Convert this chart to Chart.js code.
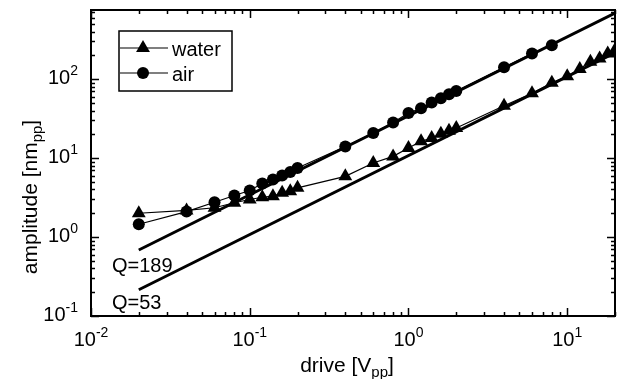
<!DOCTYPE html>
<html>
<head>
<meta charset="utf-8">
<script src="https://cdn.jsdelivr.net/npm/chart.js@4.4.1/dist/chart.umd.min.js"></script>
<style>
  html, body { margin: 0; padding: 0; background: #fff; }
  #wrap { width: 624px; height: 379px; position: relative; }
</style>
</head>
<body>
<div id="wrap"><canvas id="myChart"></canvas></div>
<script>
// datos
const drive = [0.02, 0.04, 0.06, 0.08, 0.1, 0.12, 0.14, 0.16, 0.18, 0.2, 0.4, 0.6, 0.8, 1, 1.2, 1.4, 1.6, 1.8, 2, 4, 6, 8, 10, 12, 14, 16, 18, 20];
const water = [2.0, 2.17, 2.35, 2.72, 2.99, 3.19, 3.29, 3.63, 3.8, 4.2, 5.87, 8.67, 10.5, 13.4, 16.3, 17.9, 20.3, 22.1, 24.0, 46, 66, 90, 109, 134, 166, 183, 211, 233];
const air = [1.45, 2.1, 2.76, 3.36, 3.88, 4.75, 5.35, 6.0, 6.68, 7.5, 14.0, 20.7, 28.2, 37.1, 42.8, 50.4, 57.3, 64.3, 70.8, 141, 211, 269];
// rectas de ajuste (Q=189 y Q=53), extremos
const fitDrive = [0.02, 20];
const fitQ189 = [0.685, 685];
const fitQ53 = [0.215, 215];
const fitLabels = ['Q=189', 'Q=53'];
// ticks
const xExps = [-2, -1, 0, 1];
const yExps = [-1, 0, 1, 2];
const xTitle = ['drive [V', 'pp', ']'];
const yTitle = ['amplitude [nm', 'pp', ']'];

const FONT = '"Liberation Sans", Arial, Helvetica, sans-serif';
const R_TRI = 8;
const R_CIR = 6;

function puntos(xs, ys) {
    var out = [];
    for (var i = 0; i < ys.length; ++i) {
        out.push({ x: xs[i], y: ys[i] });
    }
    return out;
}

function dibujarMarca(ctx, tipo, x, y) {
    ctx.beginPath();
    if (tipo === 'triangle') {
        var r = R_TRI;
        ctx.moveTo(x, y - r);
        ctx.lineTo(x + r * 0.866, y + r * 0.5);
        ctx.lineTo(x - r * 0.866, y + r * 0.5);
        ctx.closePath();
    } else {
        ctx.arc(x, y, R_CIR, 0, Math.PI * 2);
    }
    ctx.fill();
}

// texto con exponente
function textoPot(ctx, base, exp, x, y, align, size, supSize, rise) {
    ctx.font = size + 'px ' + FONT;
    var wb = ctx.measureText(base).width;
    ctx.font = supSize + 'px ' + FONT;
    var we = ctx.measureText(exp).width;
    var total = wb + we;
    var x0 = x;
    if (align === 'center') x0 = x - total / 2;
    if (align === 'right') x0 = x - total;
    ctx.textAlign = 'left';
    ctx.textBaseline = 'alphabetic';
    ctx.font = size + 'px ' + FONT;
    ctx.fillText(base, x0, y);
    ctx.font = supSize + 'px ' + FONT;
    ctx.fillText(exp, x0 + wb, y - rise);
}

// texto con subindice, centrado en x
function textoSub(ctx, partes, x, y, size, subSize, drop) {
    ctx.font = size + 'px ' + FONT;
    var w1 = ctx.measureText(partes[0]).width;
    var w3 = ctx.measureText(partes[2]).width;
    ctx.font = subSize + 'px ' + FONT;
    var w2 = ctx.measureText(partes[1]).width;
    var x0 = x - (w1 + w2 + w3) / 2;
    ctx.textAlign = 'left';
    ctx.textBaseline = 'alphabetic';
    ctx.font = size + 'px ' + FONT;
    ctx.fillText(partes[0], x0, y);
    ctx.font = subSize + 'px ' + FONT;
    ctx.fillText(partes[1], x0 + w1, y + drop);
    ctx.font = size + 'px ' + FONT;
    ctx.fillText(partes[2], x0 + w1 + w2, y);
}

const marco = {
    id: 'marco',
    afterDraw(chart) {
        const ctx = chart.ctx;
        const a = chart.chartArea;
        const sx = chart.scales.x;
        const sy = chart.scales.y;
        ctx.save();
        ctx.fillStyle = '#000';
        ctx.strokeStyle = '#000';

        // ticks hacia dentro, en los cuatro lados
        ctx.lineWidth = 1.5;
        ctx.beginPath();
        xExps.forEach(function (e) {
            for (var m = 1; m <= 9; ++m) {
                var v = m * Math.pow(10, e);
                if (v > sx.max + 1e-9) break;
                var px = Math.round(sx.getPixelForValue(v)) + 0.5;
                var len = (m === 1) ? 8 : 4;
                ctx.moveTo(px, a.bottom); ctx.lineTo(px, a.bottom - len);
                ctx.moveTo(px, a.top); ctx.lineTo(px, a.top + len);
            }
        });
        yExps.forEach(function (e) {
            for (var m = 1; m <= 9; ++m) {
                var v = m * Math.pow(10, e);
                if (v > sy.max + 1e-9) break;
                var py = Math.round(sy.getPixelForValue(v)) + 0.5;
                var len = (m === 1) ? 8 : 4;
                ctx.moveTo(a.left, py); ctx.lineTo(a.left + len, py);
                ctx.moveTo(a.right, py); ctx.lineTo(a.right - len, py);
            }
        });
        ctx.stroke();

        // marco
        ctx.lineWidth = 2;
        ctx.strokeRect(a.left, a.top, a.right - a.left, a.bottom - a.top);

        // etiquetas de ticks
        xExps.forEach(function (e) {
            var px = sx.getPixelForValue(Math.pow(10, e));
            textoPot(ctx, '10', String(e), px, 346, 'center', 20, 14, 9);
        });
        yExps.forEach(function (e) {
            var py = sy.getPixelForValue(Math.pow(10, e));
            textoPot(ctx, '10', String(e), 78, py + 5, 'right', 20, 14, 9);
        });

        // titulos de ejes
        textoSub(ctx, xTitle, (a.left + a.right) / 2 - 6, 372, 21, 15, 5);
        ctx.save();
        ctx.translate(37, 197);
        ctx.rotate(-Math.PI / 2);
        textoSub(ctx, yTitle, 0, 0, 21, 15, 5);
        ctx.restore();

        // etiquetas Q
        ctx.font = '20px ' + FONT;
        ctx.textAlign = 'left';
        ctx.textBaseline = 'alphabetic';
        ctx.fillText(fitLabels[0], 112, 272);
        ctx.fillText(fitLabels[1], 112, 309);

        // leyenda
        ctx.lineWidth = 1.5;
        ctx.fillStyle = '#fff';
        ctx.fillRect(119, 31, 113, 60);
        ctx.strokeRect(119, 31, 113, 60);
        ctx.fillStyle = '#000';
        var items = [['water', 'triangle', 48], ['air', 'circle', 73]];
        items.forEach(function (it) {
            ctx.lineWidth = 1.2;
            ctx.beginPath();
            ctx.moveTo(120, it[2]); ctx.lineTo(168, it[2]);
            ctx.stroke();
            dibujarMarca(ctx, it[1], 143, it[2]);
            ctx.font = '20px ' + FONT;
            ctx.fillText(it[0], 172, it[2] + 7.5);
        });

        ctx.restore();
    }
};

const ctx = document.getElementById('myChart').getContext('2d');
const myChart = new Chart(ctx, {
    type: 'line',
    data: {
        datasets: [{
            label: 'water',
            data: puntos(drive, water),
            borderColor: '#000',
            backgroundColor: '#000',
            borderWidth: 1.2,
            pointStyle: 'triangle',
            pointRadius: R_TRI,
            pointBorderWidth: 0,
            order: 1
        }, {
            label: 'air',
            data: puntos(drive, air),
            borderColor: '#000',
            backgroundColor: '#000',
            borderWidth: 1.2,
            pointStyle: 'circle',
            pointRadius: R_CIR,
            pointBorderWidth: 0,
            order: 2
        }, {
            label: fitLabels[0],
            data: puntos(fitDrive, fitQ189),
            borderColor: '#000',
            borderWidth: 3,
            pointRadius: 0,
            order: 3
        }, {
            label: fitLabels[1],
            data: puntos(fitDrive, fitQ53),
            borderColor: '#000',
            borderWidth: 3,
            pointRadius: 0,
            order: 4
        }]
    },
    options: {
        responsive: true,
        maintainAspectRatio: false,
        animation: false,
        devicePixelRatio: 1,
        layout: { padding: { left: 0, right: 9, top: 10, bottom: 0 } },
        plugins: {
            legend: { display: false },
            tooltip: { enabled: false }
        },
        scales: {
            x: {
                type: 'logarithmic',
                min: 0.01,
                max: 20,
                ticks: { display: false },
                grid: { display: false },
                border: { display: false },
                afterFit: function (s) { s.height = 63; }
            },
            y: {
                type: 'logarithmic',
                min: 0.1,
                max: 750,
                ticks: { display: false },
                grid: { display: false },
                border: { display: false },
                afterFit: function (s) { s.width = 91; }
            }
        }
    },
    plugins: [marco]
});
</script>
</body>
</html>
